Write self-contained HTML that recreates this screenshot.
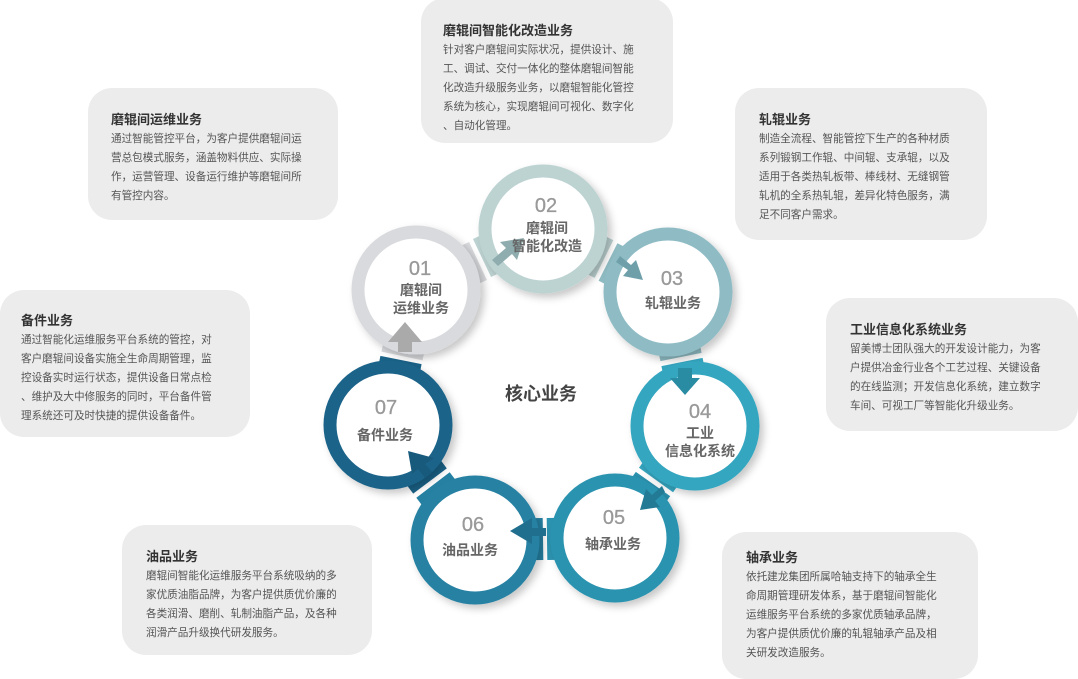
<!DOCTYPE html>
<html><head><meta charset="utf-8"><style>
body{margin:0;width:1078px;height:679px;background:#fff;position:relative;overflow:hidden;font-family:"Liberation Sans","Noto Sans CJK SC",sans-serif;}
.b{position:absolute;background:#ececec;border-radius:24px;box-sizing:border-box;}
.b h4{margin:0;font-size:13px;font-weight:bold;color:#333;line-height:16px;}
.b p{margin:2px 0 0;font-size:10.6px;color:#555;line-height:19px;white-space:nowrap;}
svg{position:absolute;left:0;top:0;}
</style></head><body>
<div class="b" style="left:421px;top:-2px;width:252px;height:145px;padding:25px 0 0 22px"><h4>磨辊间智能化改造业务</h4><p>针对客户磨辊间实际状况，提供设计、施<br>工、调试、交付一体化的整体磨辊间智能<br>化改造升级服务业务，以磨辊智能化管控<br>系统为核心，实现磨辊间可视化、数字化<br>、自动化管理。</p></div>
<div class="b" style="left:88px;top:88px;width:250px;height:132px;padding:24px 0 0 23px"><h4>磨辊间运维业务</h4><p>通过智能管控平台，为客户提供磨辊间运<br>营总包模式服务，涵盖物料供应、实际操<br>作，运营管理、设备运行维护等磨辊间所<br>有管控内容。</p></div>
<div class="b" style="left:735px;top:88px;width:252px;height:152px;padding:24px 0 0 24px"><h4>轧辊业务</h4><p>制造全流程、智能管控下生产的各种材质<br>系列锻钢工作辊、中间辊、支承辊，以及<br>适用于各类热轧板带、棒线材、无缝钢管<br>轧机的全系热轧辊，差异化特色服务，满<br>足不同客户需求。</p></div>
<div class="b" style="left:0px;top:290px;width:250px;height:147px;padding:23px 0 0 21px"><h4>备件业务</h4><p>通过智能化运维服务平台系统的管控，对<br>客户磨辊间设备实施全生命周期管理，监<br>控设备实时运行状态，提供设备日常点检<br>、维护及大中修服务的同时，平台备件管<br>理系统还可及时快捷的提供设备备件。</p></div>
<div class="b" style="left:826px;top:298px;width:252px;height:133px;padding:24px 0 0 24px"><h4>工业信息化系统业务</h4><p>留美博士团队强大的开发设计能力，为客<br>户提供冶金行业各个工艺过程、关键设备<br>的在线监测；开发信息化系统，建立数字<br>车间、可视工厂等智能化升级业务。</p></div>
<div class="b" style="left:122px;top:525px;width:250px;height:130px;padding:24px 0 0 24px"><h4>油品业务</h4><p>磨辊间智能化运维服务平台系统吸纳的多<br>家优质油脂品牌，为客户提供质优价廉的<br>各类润滑、磨削、轧制油脂产品，及各种<br>润滑产品升级换代研发服务。</p></div>
<div class="b" style="left:722px;top:532px;width:256px;height:147px;padding:18px 0 0 24px"><h4>轴承业务</h4><p>依托建龙集团所属哈轴支持下的轴承全生<br>命周期管理研发体系，基于磨辊间智能化<br>运维服务平台系统的多家优质轴承品牌，<br>为客户提供质优价廉的轧辊轴承产品及相<br>关研发改造服务。</p></div>
<svg width="1078" height="679" viewBox="0 0 1078 679">
<defs><filter id="s" x="-30%" y="-30%" width="160%" height="160%"><feDropShadow dx="4" dy="4" stdDeviation="4" flood-color="#000" flood-opacity="0.22"/></filter></defs>
<g font-family="Liberation Sans, Noto Sans CJK SC, sans-serif" text-anchor="middle">
<g stroke-width="42" fill="none">
<line x1="416" y1="290" x2="478" y2="261" stroke="#d9dadd"/><line x1="482" y1="258" x2="543" y2="229" stroke="#bdd3d2"/>
<line x1="543" y1="229" x2="604" y2="259" stroke="#bdd3d2"/><line x1="608" y1="262" x2="668" y2="292" stroke="#8fbcc4"/>
<line x1="668" y1="292" x2="681" y2="357" stroke="#8fbcc4"/><line x1="682" y1="362" x2="695" y2="426" stroke="#35a6c0"/>
<line x1="695" y1="426" x2="656" y2="480" stroke="#35a6c0"/><line x1="653" y1="484" x2="615" y2="538" stroke="#2b93b0"/>
<line x1="615" y1="538" x2="547" y2="539" stroke="#2b93b0"/><line x1="543" y1="539" x2="475" y2="540" stroke="#2581a3"/>
<line x1="475" y1="540" x2="433" y2="485" stroke="#2581a3"/><line x1="430" y1="481" x2="388" y2="425" stroke="#1a6389"/>
<line x1="388" y1="425" x2="401" y2="360" stroke="#1a6389"/><line x1="402" y1="356" x2="416" y2="290" stroke="#d9dadd"/>
</g>
<g filter="url(#s)">
<circle cx="416" cy="290" r="58" fill="#fff" stroke="#d9dadd" stroke-width="13"/>
<circle cx="543" cy="229" r="58" fill="#fff" stroke="#bdd3d2" stroke-width="13"/>
<circle cx="668" cy="292" r="58" fill="#fff" stroke="#8fbcc4" stroke-width="13"/>
<circle cx="695" cy="426" r="58" fill="#fff" stroke="#35a6c0" stroke-width="13"/>
<circle cx="615" cy="538" r="58" fill="#fff" stroke="#2b93b0" stroke-width="13"/>
<circle cx="475" cy="540" r="58" fill="#fff" stroke="#2581a3" stroke-width="13"/>
<circle cx="388" cy="425" r="58" fill="#fff" stroke="#1a6389" stroke-width="13"/>
</g>
<polygon points="398,352 398,342 388,342 405,322 422,342 412,342 412,352" fill="#aaa"/>
<polygon points="492,260 506,248 500,242 524,238 517,260 512,254 498,266" fill="#8fadae"/>
<polygon points="616,262 628,270 623,276 643,280 636,260 631,265 620,256" fill="#6fa0aa"/>
<polygon points="678,368 692,368 692,378 700,378 685,395 670,378 678,378" fill="#2a8ca3"/>
<polygon points="662,486 652,495 646,489 640,510 660,507 655,501 665,492" fill="#237a95"/>
<polygon points="546,528 532,528 532,518 510,531 532,544 532,536 546,536" fill="#216f8e"/>
<polygon points="432,472 425,464 434,458 408,451 412,474 418,469 425,478" fill="#185a7c"/>
<g fill="#999" stroke="#999" stroke-width="0.3" font-size="20" font-weight="normal" textLength="24"><text x="420" y="275">01</text><text x="546" y="212">02</text><text x="672" y="285">03</text><text x="700" y="418">04</text><text x="614" y="524">05</text><text x="473" y="531">06</text><text x="386" y="414">07</text></g>
<g fill="#666" font-size="14" font-weight="bold">
<text x="421" y="295">磨辊间</text><text x="421" y="313">运维业务</text>
<text x="547" y="233">磨辊间</text><text x="547" y="251">智能化改造</text>
<text x="673" y="308">轧辊业务</text>
<text x="700" y="438">工业</text><text x="700" y="456">信息化系统</text>
<text x="613" y="549">轴承业务</text>
<text x="470" y="555">油品业务</text>
<text x="385" y="440">备件业务</text>
</g>
<text x="541" y="400" font-size="18" font-weight="bold" fill="#444">核心业务</text>
</g>
</svg>
</body></html>
